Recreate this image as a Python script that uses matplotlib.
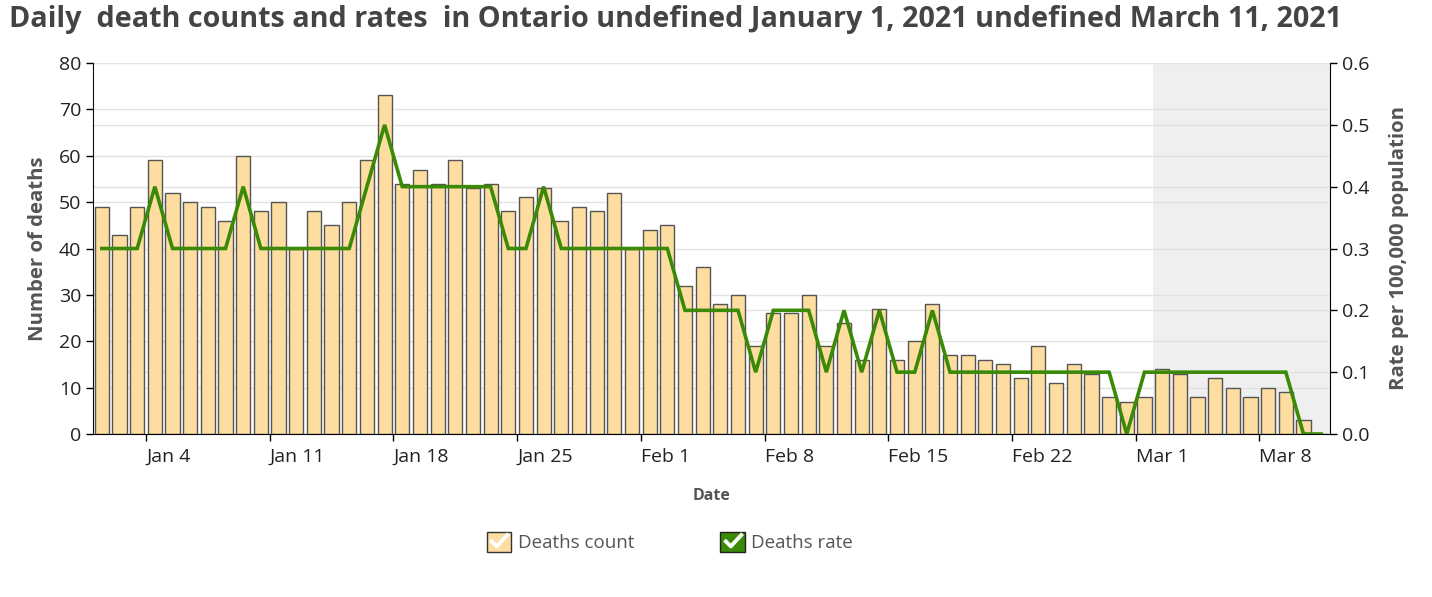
import numpy as np
import pandas as pd
import matplotlib
matplotlib.use('Agg')
import matplotlib.pyplot as plt
import matplotlib.dates as mdates
from matplotlib.patches import Patch
from matplotlib.lines import Line2D
from matplotlib.legend_handler import HandlerTuple

plt.rcParams['font.family'] = ['Open Sans', 'DejaVu Sans']

# daily data, Jan 1 - Mar 11 2021
dates = pd.date_range('2021-01-01', '2021-03-11', freq='D')
deaths = [49, 43, 49, 59, 52, 50, 49, 46, 60, 48,
          50, 40, 48, 45, 50, 59, 73, 54, 57, 54,
          59, 53, 54, 48, 51, 53, 46, 49, 48, 52,
          40, 44, 45, 32, 36, 28, 30, 19, 26, 26,
          30, 19, 24, 16, 27, 16, 20, 28, 17, 17,
          16, 15, 12, 19, 11, 15, 13, 8, 7, 8,
          14, 13, 8, 12, 10, 8, 10, 9, 3, 0]
rates = [0.3, 0.3, 0.3, 0.4, 0.3, 0.3, 0.3, 0.3, 0.4, 0.3,
         0.3, 0.3, 0.3, 0.3, 0.3, 0.4, 0.5, 0.4, 0.4, 0.4,
         0.4, 0.4, 0.4, 0.3, 0.3, 0.4, 0.3, 0.3, 0.3, 0.3,
         0.3, 0.3, 0.3, 0.2, 0.2, 0.2, 0.2, 0.1, 0.2, 0.2,
         0.2, 0.1, 0.2, 0.1, 0.2, 0.1, 0.1, 0.2, 0.1, 0.1,
         0.1, 0.1, 0.1, 0.1, 0.1, 0.1, 0.1, 0.1, 0.0, 0.1,
         0.1, 0.1, 0.1, 0.1, 0.1, 0.1, 0.1, 0.1, 0.0, 0.0]
tick_dates = pd.date_range('2021-01-04', '2021-03-08', freq='7D')
tick_labels = ['Jan 4', 'Jan 11', 'Jan 18', 'Jan 25', 'Feb 1',
               'Feb 8', 'Feb 15', 'Feb 22', 'Mar 1', 'Mar 8']
shade_start = pd.Timestamp('2021-03-02')
x_end = pd.Timestamp('2021-03-12')

bar_color = '#fddda0'
line_color = '#3a8a07'
text_gray = '#555555'

x = mdates.date2num(dates) + 0.5

fig = plt.figure(figsize=(14.32, 5.97), dpi=100)
ax = fig.add_axes([93/1432, 1-434/597, (1330-93)/1432, (434-63)/597])
ax2 = ax.twinx()

ax.axvspan(mdates.date2num(shade_start), mdates.date2num(x_end), color='#efefef', zorder=0, lw=0)
ax.bar(x, deaths, width=0.8, color=bar_color, edgecolor='#555555', linewidth=1, zorder=2)
ax.axvline(mdates.date2num(dates[0]) - 0.03, color='#d03030', ls='--', lw=1, zorder=3)
ax2.plot(x, rates, color=line_color, lw=2.6, solid_joinstyle='miter')

ax.set_xlim(mdates.date2num(dates[0]), mdates.date2num(x_end))
ax.set_ylim(0, 80)
ax2.set_ylim(0, 0.6)
ax.set_yticks(np.arange(0, 81, 10))
ax2.set_yticks(np.arange(0, 0.61, 0.1))
ax2.set_yticklabels([f'{v:.1f}' for v in np.arange(0, 0.61, 0.1)])
# gridlines of the rate scale drawn on the count axis so they stay behind the bars
ax.yaxis.set_minor_locator(matplotlib.ticker.FixedLocator(np.arange(0.1, 0.61, 0.1) * 80 / 0.6))
ax.set_axisbelow(True)
ax.grid(axis='y', which='both', color='#e2e2e2', lw=1)
ax.tick_params(axis='y', which='minor', length=0)

ax.set_xticks(mdates.date2num(tick_dates))
ax.set_xticklabels(tick_labels, ha='left')

for a in (ax, ax2):
    a.tick_params(which='major', direction='out', length=5, width=1, color='black',
                  labelsize=14, labelcolor='#222222')
    a.spines['top'].set_visible(False)
ax.tick_params(axis='x', pad=5)
ax.spines['right'].set_visible(False)
ax2.spines['left'].set_visible(False)
ax2.spines['bottom'].set_visible(False)

ax.set_ylabel('Number of deaths', fontsize=14.7, weight='bold', color=text_gray, labelpad=8)
ax2.set_ylabel('Rate per 100,000 population', fontsize=14.7, weight='bold', color=text_gray, labelpad=14)
ax.set_xlabel('Date', fontsize=11.5, weight='bold', color=text_gray, labelpad=16)

fig.text(0.006, 0.967, 'Daily  death counts and rates  in Ontario undefined January 1, 2021 undefined March 11, 2021',
         fontsize=20.7, weight='bold', color='#444444', va='center', ha='left')

check = [(-1.0, 0.05), (-0.3, -0.65), (1.0, 0.75)]
h1 = (Patch(facecolor=bar_color, edgecolor='#333333', lw=1),
      Line2D([], [], marker=check, ls='none', markerfacecolor='none',
             markeredgecolor='white', markeredgewidth=2.8, markersize=13))
h2 = (Patch(facecolor=line_color, edgecolor='#222222', lw=1),
      Line2D([], [], marker=check, ls='none', markerfacecolor='none',
             markeredgecolor='white', markeredgewidth=2.8, markersize=13))
leg = fig.legend([h1, h2], ['Deaths count', 'Deaths rate'],
                 handler_map={tuple: HandlerTuple(ndivide=1)},
                 loc='center', bbox_to_anchor=(670/1432, 1-542/597), ncol=2,
                 frameon=False, fontsize=13.5, handlelength=1.3, handleheight=1.3,
                 handletextpad=0.35, columnspacing=4.6)
for t in leg.get_texts():
    t.set_color(text_gray)

fig.savefig('out.png', dpi=100)
